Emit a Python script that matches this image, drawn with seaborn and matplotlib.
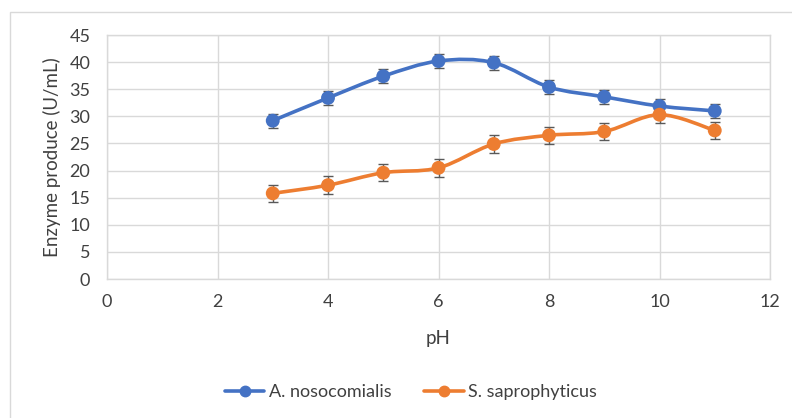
import numpy as np
import pandas as pd
import matplotlib
matplotlib.use("Agg")
import matplotlib.pyplot as plt
from matplotlib.path import Path
from matplotlib.patches import PathPatch, Rectangle
from matplotlib.lines import Line2D
import seaborn as sns

# ---- data ----
ph = [3, 4, 5, 6, 7, 8, 9, 10, 11]
a_noso = [29.2, 33.4, 37.4, 40.2, 39.9, 35.4, 33.6, 31.9, 31.0]
a_noso_err = [1.3, 1.3, 1.3, 1.3, 1.3, 1.3, 1.3, 1.3, 1.3]
s_sapro = [15.8, 17.3, 19.6, 20.5, 24.9, 26.5, 27.2, 30.3, 27.4]
s_sapro_err = [1.6, 1.7, 1.6, 1.7, 1.7, 1.6, 1.6, 1.6, 1.6]
series_names = ["A. nosocomialis", "S. saprophyticus"]
colors = ["#4472C4", "#ED7D31"]
x_ticks = [0, 2, 4, 6, 8, 10, 12]
y_ticks = [0, 5, 10, 15, 20, 25, 30, 35, 40, 45]

df = pd.DataFrame({
    "pH": ph * 2,
    "value": a_noso + s_sapro,
    "err": a_noso_err + s_sapro_err,
    "series": [series_names[0]] * len(ph) + [series_names[1]] * len(ph),
})

sns.set_theme(style="white")
plt.rcParams["font.family"] = ["Lato", "DejaVu Sans"]

fig = plt.figure(figsize=(7.92, 4.18), dpi=100)
ax = fig.add_axes([107 / 792, 1 - 279 / 418, (770 - 107) / 792, (279 - 35) / 418])

# outer chart frame
fig.patches.append(Rectangle((10 / 792, -0.1), 1.2, 1 - 12 / 418 + 0.1,
                             transform=fig.transFigure, fill=False,
                             edgecolor="#D9D9D9", linewidth=1.0, zorder=0))


def smooth_path(xs, ys):
    # Excel-style smoothed line (cubic Bezier through the points)
    pts = np.column_stack([xs, ys]).astype(float)
    verts = [pts[0]]
    codes = [Path.MOVETO]
    n = len(pts)
    for i in range(n - 1):
        p0 = pts[i - 1] if i > 0 else pts[i]
        p1 = pts[i]
        p2 = pts[i + 1]
        p3 = pts[i + 2] if i + 2 < n else pts[i + 1]
        c1 = p1 + (p2 - p0) / 6.0
        c2 = p2 - (p3 - p1) / 6.0
        verts += [c1, c2, p2]
        codes += [Path.CURVE4] * 3
    return Path(verts, codes)


for name, col in zip(series_names, colors):
    sub = df[df["series"] == name]
    ax.add_patch(PathPatch(smooth_path(sub["pH"].values, sub["value"].values),
                           facecolor="none", edgecolor=col, linewidth=2.6,
                           zorder=3, capstyle="round"))
    ax.errorbar(sub["pH"], sub["value"], yerr=sub["err"], fmt="none",
                ecolor="#595959", elinewidth=1.0, capsize=3.5, capthick=1.0,
                zorder=4)

sns.scatterplot(data=df, x="pH", y="value", hue="series", palette=colors,
                s=100, edgecolor="none", ax=ax, zorder=5, legend=False)

ax.set_xlim(0, 12)
ax.set_ylim(0, 45)
ax.set_xticks(x_ticks)
ax.set_yticks(y_ticks)
ax.grid(True, color="#D9D9D9", linewidth=1.0)
ax.set_axisbelow(True)
for sp in ax.spines.values():
    sp.set_color("#D9D9D9")
    sp.set_linewidth(1.0)
ax.tick_params(axis="both", length=0, labelsize=13, colors="#404040")
ax.tick_params(axis="x", pad=11)
ax.tick_params(axis="y", pad=12)
ax.set_xlabel("pH", fontsize=13.5, color="#404040", labelpad=14)
ax.set_ylabel("Enzyme produce (U/mL)", fontsize=13.5, color="#404040", labelpad=6)

# legend
handles = [Line2D([0], [0], color=c, linewidth=2.6, marker="o", markersize=7.5)
           for c in colors]
fig.legend(handles, series_names, loc="center", bbox_to_anchor=(411 / 792, 1 - 392 / 418),
           ncol=2, frameon=False, fontsize=13, handlelength=2.2,
           columnspacing=1.8, handletextpad=0.25, labelcolor="#404040")

fig.savefig("out.png", dpi=100)
